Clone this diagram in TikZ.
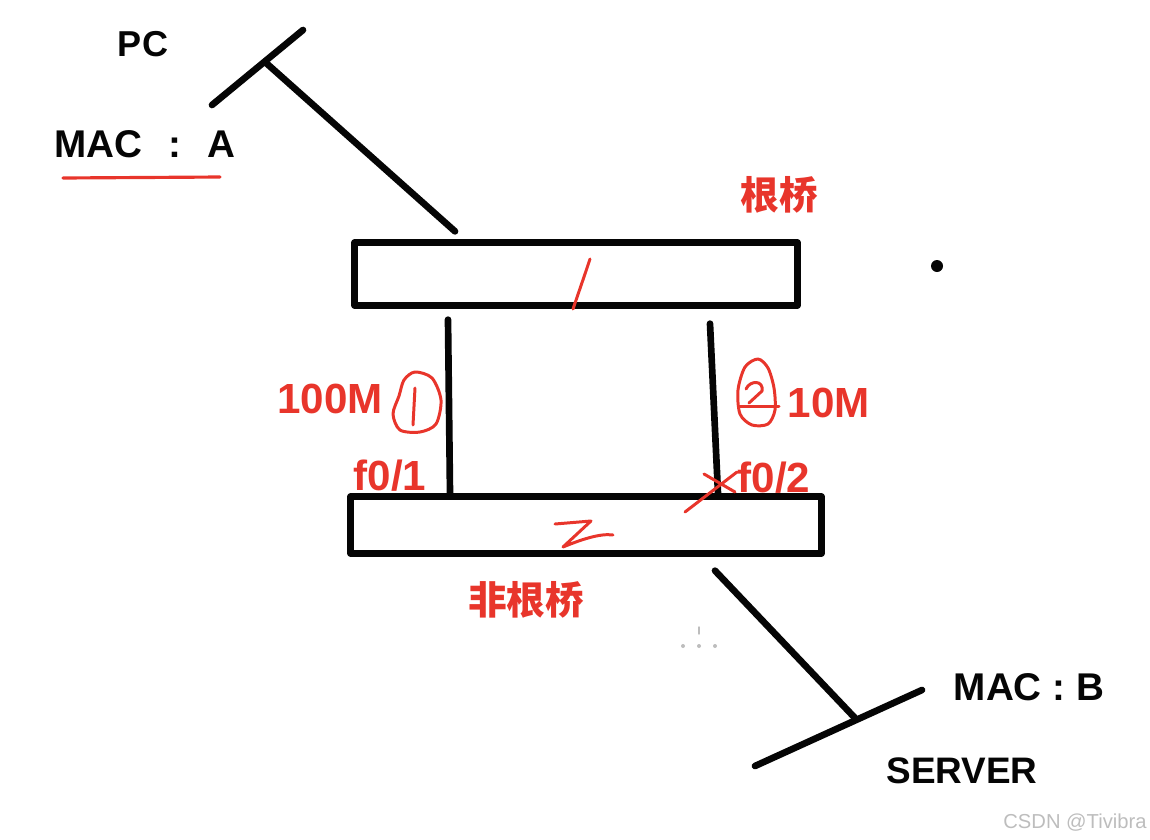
\documentclass[tikz,border=0pt]{standalone}
\usepackage{fontspec}
\setmainfont{Liberation Sans}
\newfontfamily\cjk{Noto Sans CJK SC}
\usetikzlibrary{calc}
\definecolor{ink}{HTML}{050505}
\definecolor{pen}{HTML}{E8352B}
\definecolor{smudge}{HTML}{BDBDBD}
\newcommand{\lbl}[1]{\fontsize{#1}{#1}\selectfont\bfseries}

\begin{document}
\begin{tikzpicture}[x=0.02cm,y=-0.02cm,line cap=round,line join=round,
  wire/.style={draw=ink,line width=3.8pt},
  bridge/.style={draw=ink,line width=3.6pt,rectangle,inner sep=0pt},
  scrib/.style={draw=pen,line width=1.7pt},
  blk/.style={text=ink,anchor=base,inner sep=0pt,font=\lbl{22pt}},
  redlbl/.style={text=pen,anchor=base,inner sep=0pt,font=\lbl{24pt}},
  cjklbl/.style={text=pen,inner sep=0pt,font=\cjk\lbl{22pt}}]
\useasboundingbox (0,0) rectangle (1150,839);

% ---------------- the two bridges
\node[bridge,minimum width=8.86cm,minimum height=1.26cm] (root) at (576,274) {};
\node[bridge,minimum width=9.42cm,minimum height=1.14cm] (nonroot) at (586,525) {};
\node[cjklbl] (rootlbl) at (779,195) {根桥};
\node[cjklbl] (nonrootlbl) at (526,600) {非根桥};

% ---------------- links between them
\coordinate (up1) at ($(root.south)+(-128,11)$);
\coordinate (dn1) at ($(nonroot.north)+(-136,0)$);
\coordinate (up2) at ($(root.south)+(134,15)$);
\coordinate (dn2) at ($(nonroot.north)+(132,0)$);
\draw[wire] (up1) -- (dn1);
\draw[wire] (up2) -- (dn2);

\node[redlbl] (bw1) at (330,413) {100M};
\node[redlbl] (bw2) at (829,417) {10M};
\node[redlbl] (p1) at (390,490) {f0/1};
\node[redlbl] (p2) at (774,492) {f0/2};

% ---------------- PC and server
\coordinate (pc) at (265,62);
\draw[wire] (212,105) -- (303,30);
\draw[wire] (pc) -- ($(root.north)+(-121,-8)$);
\node[blk,font=\lbl{20.5pt}] (pclbl) at (143,56) {PC};
\node[blk] (maca) at (145,157) {MAC\hspace{0.4em} :\hspace{0.4em} A};
\draw[pen,line width=1.8pt] (63,178) -- (220,177);

\coordinate (srv) at (855,718);
\draw[wire] ($(nonroot.south)+(129,14)$) -- (srv);
\draw[wire] (755,766) -- (922,690);
\node[blk] (macb) at (1029,700) {MAC : B};
\node[blk,font=\lbl{21pt}] (srvlbl) at (962,783) {SERVER};

% ---------------- hand marks
\draw[scrib] (573,309) -- (586,271) -- (590,259);
\draw[scrib] (555,524) -- (591,521) -- (563,547)
  .. controls (580,540) and (600,533) .. (613,535);
\draw[scrib] plot[smooth cycle] coordinates {(415,372) (432,378) (441,400)
  (436,424) (420,432) (400,430) (393,414) (399,396) (404,380)};
\draw[scrib] (415,388) -- (413,425);
\draw[scrib] plot[smooth cycle] coordinates {(758,359) (768,368) (774,388)
  (775,410) (768,424) (752,425) (740,414) (738,390) (745,367)};
\draw[scrib] (746,389) .. controls (750,380) and (764,380) .. (762,391)
  -- (749,403);
\draw[scrib] (740,406) -- (779,406);
\draw[scrib] (685,512) -- (737,472);
\draw[scrib] (704,474) -- (735,492);

% ---------------- stray dots
\fill[ink] (937,266) circle[radius=0.12cm];
\fill[smudge] (683,646) circle[radius=0.04cm] (699,646) circle[radius=0.04cm]
  (715,646) circle[radius=0.04cm];
\draw[smudge,line width=0.8pt] (699,627) -- (699,634);

\node[text=smudge,anchor=base,inner sep=0pt,font=\fontsize{11.5pt}{12pt}\selectfont]
  (wm) at (1075,828) {CSDN @Tivibra};
\end{tikzpicture}
\end{document}
